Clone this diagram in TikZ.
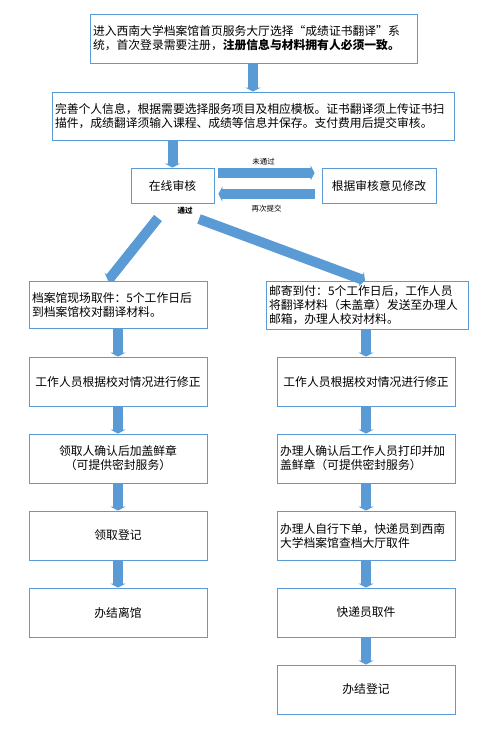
\documentclass[tikz,border=0pt]{standalone}
\usepackage{fontspec}
\setmainfont{Noto Sans CJK SC}
\usepackage{tikz}
\usetikzlibrary{arrows.meta,calc,positioning}
\definecolor{boxline}{RGB}{91,155,213}
\definecolor{flowarrow}{RGB}{91,155,213}
\begin{document}
\begin{tikzpicture}[x=1pt,y=-1pt,
  cell/.style={draw=boxline,line width=0.8pt,inner sep=3pt,font=\fontsize{11.8}{14}\selectfont},
  colcell/.style={cell,text width=172pt,minimum height=49pt},
  flow/.style={draw=flowarrow,line width=10pt,-{Triangle[length=4pt,width=15pt]}},
  tag/.style={font=\fontsize{7.5}{9}\selectfont,inner sep=0pt}]
  \useasboundingbox (0,0) rectangle (502,731);
  \node[cell,text width=321pt,minimum height=49pt,align=left] (entry) at (253.5,38.5)
    {进入西南大学档案馆首页服务大厅选择\makebox[1em][r]{“}成绩证书翻译\makebox[1em][l]{”}系\\统，首次登录需要注册，\textbf{注册信息与材料拥有人必须一致。}};
  \node[cell,text width=396pt,minimum height=48pt,align=left] (fillin) at (253,116)
    {完善个人信息，根据需要选择服务项目及相应模板。证书翻译须上传证书扫\\描件，成绩翻译须输入课程、成绩等信息并保存。支付费用后提交审核。};
  \node[cell,minimum width=83pt,minimum height=35pt] (review) at (172.5,185.5) {在线审核};
  \node[cell,minimum width=114pt,minimum height=35pt] (revise) at (379,185.5) {根据审核意见修改};
  \node[tag] (failtag) at (263.5,162) {未通过};
  \node[tag] (resubmittag) at (266.5,209) {再次提交};
  \node[tag,font=\fontsize{7.5}{9}\selectfont\bfseries] (passtag) at (185,211) {通过};
  % on-site branch
  \node[colcell,minimum height=47pt,align=left] (onsite) at (118,304.5)
    {档案馆现场取件：5个工作日后\\到档案馆校对翻译材料。};
  \node[colcell,align=center] (fixleft) at (118,381.5) {工作人员根据校对情况进行修正};
  \node[colcell,align=center] (sealleft) at (118,458.5) {领取人确认后加盖鲜章\\（可提供密封服务）};
  \node[colcell,align=center] (signleft) at (118,535.5) {领取登记};
  \node[colcell,align=center] (doneleft) at (118,612.5) {办结离馆};
  % mail branch
  \node[cell,text width=196pt,minimum height=48pt,align=left] (mailout) at (367,305)
    {邮寄到付：5个工作日后，工作人员\\将翻译材料（未盖章）发送至办理人\\邮箱，办理人校对材料。};
  \node[colcell,align=center] (fixright) at (366,381.5) {工作人员根据校对情况进行修正};
  \node[colcell,align=left] (sealright) at (366,458.5) {办理人确认后工作人员打印并加\\盖鲜章（可提供密封服务）};
  \node[colcell,align=left] (orderright) at (366,535.5) {办理人自行下单，快递员到西南\\大学档案馆查档大厅取件};
  \node[colcell,align=center] (courier) at (366,612.5) {快递员取件};
  \node[colcell,align=center] (doneright) at (366,689.5) {办结登记};
  % arrows
  \draw[flow] (entry.south -| fillin.north) -- (fillin.north);
  \draw[flow] (review.north |- fillin.south) -- (review.north);
  \draw[flow] ([xshift=4pt,yshift=12.5pt]review.east) -- ([xshift=-7pt,yshift=12.5pt]revise.west);
  \draw[flow] ([xshift=-7pt,yshift=-8.5pt]revise.west) -- ([xshift=4pt,yshift=-8.5pt]review.east);
  \coordinate (passleft) at (158,218);
  \coordinate (passright) at (199,219);
  \draw[flow] (passleft) -- ([xshift=-10pt]onsite.north);
  \draw[flow] (passright) -- ([xshift=-2pt]mailout.north);
  \foreach \a/\b in {onsite/fixleft,fixleft/sealleft,sealleft/signleft,signleft/doneleft,
    mailout/fixright,fixright/sealright,sealright/orderright,orderright/courier,courier/doneright}
    \draw[flow] (\a.south -| \b.north) -- (\b.north);
\end{tikzpicture}
\end{document}
